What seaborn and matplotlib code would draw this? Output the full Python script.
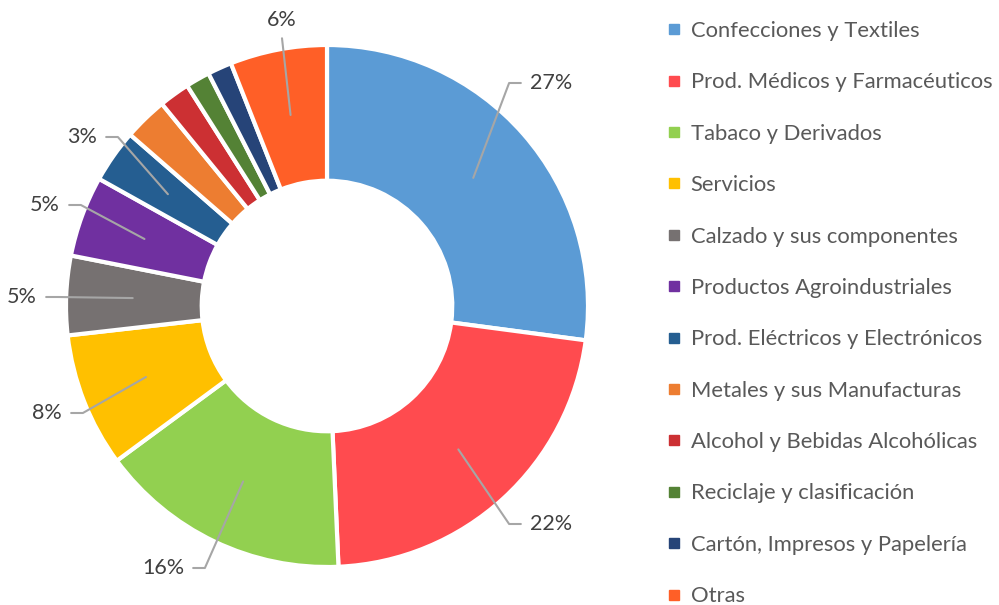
import seaborn as sns
import matplotlib.pyplot as plt
from matplotlib.lines import Line2D
import numpy as np

categorias = ['Confecciones y Textiles', 'Prod. Médicos y Farmacéuticos', 'Tabaco y Derivados',
              'Servicios', 'Calzado y sus componentes', 'Productos Agroindustriales',
              'Prod. Eléctricos y Electrónicos', 'Metales y sus Manufacturas',
              'Alcohol y Bebidas Alcohólicas', 'Reciclaje y clasificación',
              'Cartón, Impresos y Papelería', 'Otras']
valores = [27.1, 22.2, 15.6, 8.3, 4.9, 5.0, 3.3, 2.7, 1.9, 1.5, 1.5, 6.0]
colores = ['#5B9BD5', '#FF4B4F', '#92D050', '#FFC000', '#767171', '#7030A0',
           '#255E91', '#ED7D31', '#CC3033', '#548235', '#264478', '#FF5F27']
# etiquetas visibles (indice -> posicion del texto en px de la imagen, alineacion)
etiquetas = {0: (530, 83, 'left'), 1: (530, 524, 'left'), 2: (184, 568, 'right'),
             3: (62, 413, 'right'), 4: (37, 297, 'right'), 5: (60, 205, 'right'),
             6: (97, 137, 'right'), 11: (282, 20, 'center')}

sns.set_theme(style='white')
plt.rcParams['font.family'] = ['Lato', 'DejaVu Sans']

fig = plt.figure(figsize=(9.99, 6.05), dpi=100)
cx, cy, R = 327, 306, 261
ax = fig.add_axes([(cx - R) / 999, (605 - cy - R) / 605, 2 * R / 999, 2 * R / 605])

pal = sns.color_palette(colores)
wedges, _ = ax.pie(valores, colors=pal, startangle=90, counterclock=False, radius=1,
                   wedgeprops=dict(width=0.52, edgecolor='white', linewidth=3))
ax.set_xlim(-1, 1)
ax.set_ylim(-1, 1)
ax.axis('off')

def px(x, y):
    return (x - cx) / R, (cy - y) / R

total = sum(valores)
for i, (tx, ty, ha) in etiquetas.items():
    w = wedges[i]
    ang = np.deg2rad((w.theta1 + w.theta2) / 2)
    sx, sy = 0.745 * np.cos(ang), 0.745 * np.sin(ang)
    x, y = px(tx, ty)
    pct = f'{round(valores[i] / total * 100):.0f}%'
    if ha == 'center':
        ax.plot([sx, x], [sy, y - 0.07], color='#A6A6A6', lw=1.5, clip_on=False)
    else:
        d = 1 if ha == 'left' else -1
        ex = x - d * 0.035
        elx = ex - d * 0.045
        ax.plot([sx, elx, ex], [sy, y, y], color='#A6A6A6', lw=1.5, clip_on=False)
    ax.text(x, y, pct, ha=ha, va='center', fontsize=15.5, color='#404040', clip_on=False)

handles = [Line2D([0], [0], marker='s', linestyle='none', markersize=7,
                  markerfacecolor=c, markeredgecolor=c) for c in colores]
leg = fig.legend(handles, categorias, loc='upper left', bbox_to_anchor=(666 / 999, 1 - 21 / 605),
                 frameon=False, fontsize=15.8, labelspacing=1.43, handlelength=0.7,
                 handletextpad=0.42, borderaxespad=0, borderpad=0)
for t in leg.get_texts():
    t.set_color('#595959')

plt.savefig('out.png', dpi=100)
